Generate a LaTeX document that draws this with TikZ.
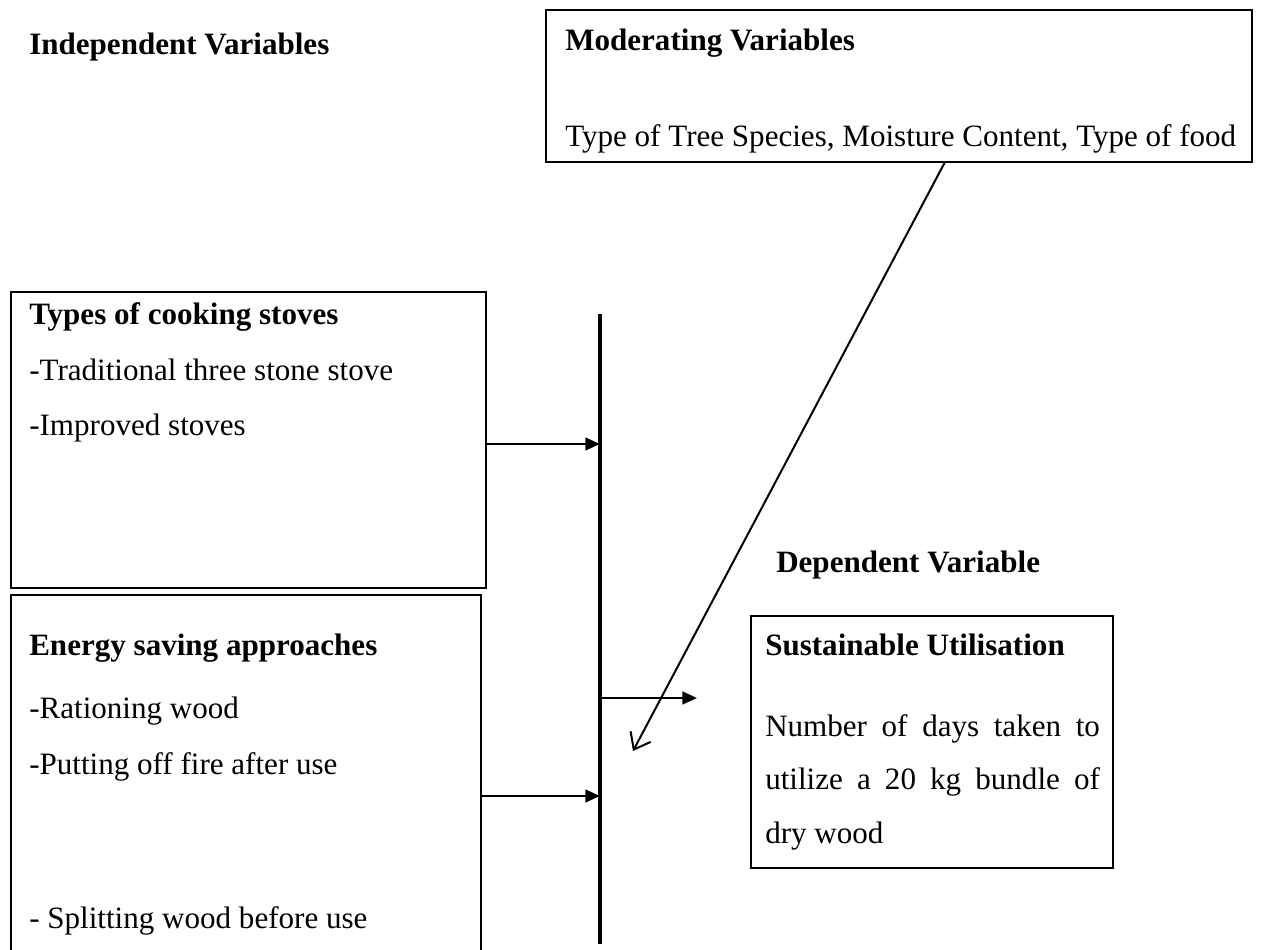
\documentclass[tikz,border=0pt]{standalone}
\usepackage{fontspec}
\setmainfont{Liberation Serif}
\usetikzlibrary{arrows.meta}
\begin{document}
\begin{tikzpicture}[x=0.75pt,y=-0.75pt,
  box/.style={draw,line width=1.8pt,inner sep=0pt,rectangle},
  txt/.style={anchor=base west,inner sep=0pt,font=\fontsize{23.3}{27}\selectfont},
  btxt/.style={txt,font=\fontsize{23.3}{27}\selectfont\bfseries},
  arr/.style={line width=1.8pt,-{Triangle[length=11pt,width=9.5pt]}},
  oarr/.style={line width=1.5pt,-{Straight Barb[length=11pt,width=17pt,line width=1.5pt]}}]
\useasboundingbox (0,0) rectangle (1279,950);
\clip (0,0) rectangle (1279,950);
% boxes
\node[box,minimum width=706*0.75pt,minimum height=152*0.75pt] (mod) at (899,86) {};
\node[box,minimum width=475*0.75pt,minimum height=296*0.75pt] (stoves) at (248.5,440) {};
\node[box,minimum width=470*0.75pt,minimum height=385*0.75pt] (energy) at (246,787.5) {};
\node[box,minimum width=362*0.75pt,minimum height=252*0.75pt] (sust) at (932,742) {};
% vertical bar
\coordinate (bartop) at (600,314);
\coordinate (barbot) at (600,944);
\draw[line width=2.6pt] (bartop) -- (barbot);
% texts
\node[btxt] (indep) at (29,54) {Independent Variables};
\node[btxt] (modt) at (565,50) {Moderating Variables};
\node[txt] (modb) at (565,146) {Type of Tree Species, Moisture Content, Type of food};
\node[btxt] (st1) at (29,324) {Types of cooking stoves};
\node[txt] (st2) at (29,380) {-Traditional three stone stove};
\node[txt] (st3) at (29,435) {-Improved stoves};
\node[btxt] (en1) at (29,655) {Energy saving approaches};
\node[txt] (en2) at (29,718) {-Rationing wood};
\node[txt] (en3) at (29,774) {-Putting off fire after use};
\node[txt] (en4) at (29,928) {- Splitting wood before use};
\node[btxt] (dep) at (776,572) {Dependent Variable};
\node[btxt] (su1) at (765,655) {Sustainable Utilisation};
\node[txt] (su2) at (765,736) {\hbox to 251pt{Number\hfill of\hfill days\hfill taken\hfill to}};
\node[txt] (su3) at (765,789) {\hbox to 251pt{utilize\hfill a\hfill 20\hfill kg\hfill bundle\hfill of}};
\node[txt] (su4) at (765,843) {dry wood};
% connectors
\coordinate (a1) at (600,444);
\coordinate (a2s) at (600,698);
\coordinate (a2e) at (697,698);
\coordinate (a3) at (600,796);
\coordinate (ms) at (945,162);
\coordinate (me) at (633,751);
\draw[arr] (stoves.east |- a1) -- (a1);
\draw[arr] (a2s) -- (a2e);
\draw[arr] (energy.east |- a3) -- (a3);
\draw[oarr] (ms) -- (me);
\end{tikzpicture}
\end{document}
